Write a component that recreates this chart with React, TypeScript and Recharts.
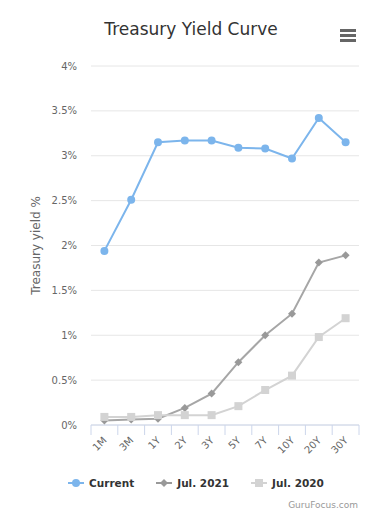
import React from 'react';
import { LineChart, Line, XAxis, YAxis, CartesianGrid } from 'recharts';

const categories = ['1M', '3M', '1Y', '2Y', '3Y', '5Y', '7Y', '10Y', '20Y', '30Y'];
const current = [1.94, 2.51, 3.15, 3.17, 3.17, 3.09, 3.08, 2.97, 3.42, 3.15];
const jul2021 = [0.05, 0.06, 0.07, 0.19, 0.35, 0.7, 1.0, 1.24, 1.81, 1.89];
const jul2020 = [0.09, 0.09, 0.11, 0.11, 0.11, 0.21, 0.39, 0.55, 0.98, 1.19];
const yTicks = [0, 0.5, 1, 1.5, 2, 2.5, 3, 3.5, 4];
const seriesNames = ['Current', 'Jul. 2021', 'Jul. 2020'];

const data = categories.map((c, i) => ({
  cat: c,
  current: current[i],
  jul2021: jul2021[i],
  jul2020: jul2020[i],
}));

const FONT = '"DejaVu Sans", sans-serif';

const CircleDot = (props: any) => {
  const { cx, cy } = props;
  if (cx == null || cy == null) return null;
  return <circle cx={cx} cy={cy} r={4} fill="#7cb5ec" />;
};
const DiamondDot = (props: any) => {
  const { cx, cy } = props;
  if (cx == null || cy == null) return null;
  const s = 4;
  return <path d={`M${cx},${cy - s}L${cx + s},${cy}L${cx},${cy + s}L${cx - s},${cy}Z`} fill="#999999" />;
};
const SquareDot = (props: any) => {
  const { cx, cy } = props;
  if (cx == null || cy == null) return null;
  return <rect x={cx - 4} y={cy - 4} width={8} height={8} fill="#d3d3d3" />;
};

const XTick = (props: any) => {
  const { x, y, payload, index, visibleTicksCount, width } = props;
  let half = payload && payload.offset ? payload.offset : 0;
  if (!half && width && visibleTicksCount) half = width / visibleTicksCount / 2;
  if (!half) half = 13.4;
  const last = index === visibleTicksCount - 1;
  const ax = x + 3;
  const ay = y + 16;
  return (
    <g>
      <line x1={x - half} y1={y} x2={x - half} y2={y + 10} stroke="#ccd6eb" strokeWidth={1} />
      {last && <line x1={x + half} y1={y} x2={x + half} y2={y + 10} stroke="#ccd6eb" strokeWidth={1} />}
      <text
        x={ax}
        y={ay}
        textAnchor="end"
        fontSize={10}
        fontFamily={FONT}
        fill="#666666"
        transform={`rotate(-45, ${ax}, ${ay})`}
      >
        {payload.value}
      </text>
    </g>
  );
};

const YTitle = (props: any) => {
  const { viewBox } = props;
  const cx = 40;
  const cy = viewBox ? viewBox.y + viewBox.height / 2 : 245;
  return (
    <text
      x={cx}
      y={cy}
      textAnchor="middle"
      fontSize={12}
      fontFamily={FONT}
      fill="#666666"
      transform={`rotate(-90, ${cx}, ${cy})`}
    >
      Treasury yield %
    </text>
  );
};

const legendItems = [
  { name: seriesNames[0], color: '#7cb5ec', shape: 'circle' },
  { name: seriesNames[1], color: '#999999', shape: 'diamond' },
  { name: seriesNames[2], color: '#d3d3d3', shape: 'square' },
];

const LegendSymbol = ({ color, shape }: { color: string; shape: string }) => (
  <svg width={16} height={12} style={{ display: 'block' }}>
    <line x1={0} y1={6} x2={16} y2={6} stroke={color} strokeWidth={2} />
    {shape === 'circle' && <circle cx={8} cy={6} r={4} fill={color} />}
    {shape === 'diamond' && <path d="M8,2L12,6L8,10L4,6Z" fill={color} />}
    {shape === 'square' && <rect x={4} y={2} width={8} height={8} fill={color} />}
  </svg>
);

export default function App() {
  return (
    <div style={{ position: 'absolute', left: 0, top: 0, width: 392, height: 520, background: '#fff', fontFamily: FONT }}>
      <div
        style={{
          position: 'absolute',
          left: 0,
          width: 382,
          top: 19,
          textAlign: 'center',
          fontSize: 17,
          color: '#333333',
        }}
      >
        Treasury Yield Curve
      </div>
      <svg width={16} height={13} style={{ position: 'absolute', left: 340, top: 29 }}>
        <rect x={0} y={0} width={16} height={3} fill="#666" />
        <rect x={0} y={5} width={16} height={3} fill="#666" />
        <rect x={0} y={10} width={16} height={3} fill="#666" />
      </svg>
      <div style={{ position: 'absolute', left: 0, top: 0 }}>
        <LineChart width={392} height={520} data={data} margin={{ top: 66, right: 33, bottom: 55, left: 31 }}>
          <CartesianGrid vertical={false} stroke="#e6e6e6" />
          <XAxis
            dataKey="cat"
            scale="band"
            height={40}
            stroke="#ccd6eb"
            tickLine={false}
            tickSize={0}
            tickMargin={0}
            interval={0}
            tick={<XTick />}
          />
          <YAxis
            width={60}
            domain={[0, 4]}
            ticks={yTicks}
            axisLine={false}
            tickLine={false}
            tickSize={0}
            tickMargin={14}
            tickFormatter={(v: number) => `${v}%`}
            tick={{ fontSize: 10, fill: '#666666', fontFamily: FONT }}
            label={<YTitle />}
          />
          <Line
            dataKey="current"
            name={seriesNames[0]}
            stroke="#7cb5ec"
            strokeWidth={2}
            dot={<CircleDot />}
            activeDot={false}
            isAnimationActive={false}
          />
          <Line
            dataKey="jul2021"
            name={seriesNames[1]}
            stroke="#a6a6a6"
            strokeWidth={2}
            dot={<DiamondDot />}
            activeDot={false}
            isAnimationActive={false}
          />
          <Line
            dataKey="jul2020"
            name={seriesNames[2]}
            stroke="#d3d3d3"
            strokeWidth={2}
            dot={<SquareDot />}
            activeDot={false}
            isAnimationActive={false}
          />
        </LineChart>
      </div>
      <div
        style={{
          position: 'absolute',
          left: 0,
          width: 392,
          top: 477,
          display: 'flex',
          justifyContent: 'center',
          gap: 22,
          fontSize: 10.5,
          fontWeight: 'bold',
          color: '#333333',
        }}
      >
        {legendItems.map((it) => (
          <div key={it.name} style={{ display: 'flex', alignItems: 'center', gap: 5 }}>
            <LegendSymbol color={it.color} shape={it.shape} />
            <span>{it.name}</span>
          </div>
        ))}
      </div>
      <div style={{ position: 'absolute', right: 34, top: 500, fontSize: 9, color: '#999999' }}>GuruFocus.com</div>
    </div>
  );
}
